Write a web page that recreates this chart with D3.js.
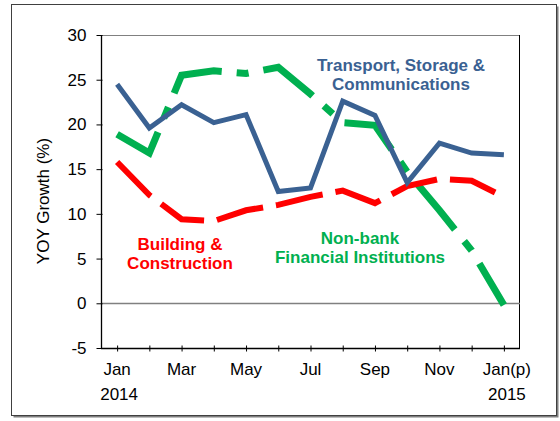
<!DOCTYPE html>
<html>
<head>
<meta charset="utf-8">
<script src="https://cdn.jsdelivr.net/npm/d3@7"></script>
<style>
  html, body { margin: 0; padding: 0; background: #fff; }
  svg { display: block; font-family: "Liberation Sans", Arial, sans-serif; }
</style>
</head>
<body>
<div id="chart"></div>
<script>
// months Jan 2014 .. Jan 2015 (p)
var months = ["Jan", "Feb", "Mar", "Apr", "May", "Jun", "Jul", "Aug", "Sep", "Oct", "Nov", "Dec", "Jan(p)"];
var monthLabels = ["Jan", "", "Mar", "", "May", "", "Jul", "", "Sep", "", "Nov", "", "Jan(p)"];
var yearLabels = ["2014", "", "", "", "", "", "", "", "", "", "", "", "2015"];
var yTicks = [-5, 0, 5, 10, 15, 20, 25, 30];

var transport = [24.5, 19.6, 22.2, 20.2, 21.1, 12.5, 12.9, 22.6, 21.0, 13.5, 17.9, 16.8, 16.6];
var building = [15.8, 12.1, 9.4, 9.2, 10.4, 11.0, 11.9, 12.6, 11.2, 13.1, 13.9, 13.7, 11.9];
var nonbank = [18.9, 16.8, 25.5, 26.0, 25.7, 26.4, 23.4, 20.2, 19.9, 14.7, 10.4, 5.9, -0.2];

var width = 560, height = 421;
var plotLeft = 101, plotRight = 520, plotTop = 35, plotBottom = 348;

var svg = d3.select("#chart").append("svg")
  .attr("width", width)
  .attr("height", height);

// outer frame with shadow
svg.append("rect")
  .attr("x", 13.5).attr("y", 6.5).attr("width", 545).attr("height", 411)
  .attr("fill", "#7f7f7f");
svg.append("rect")
  .attr("x", 11.5).attr("y", 4.5).attr("width", 545).attr("height", 411)
  .attr("fill", "#fff").attr("stroke", "#404040").attr("stroke-width", 1);

var x = d3.scalePoint().domain(d3.range(months.length)).range([plotLeft, plotRight]).padding(0.5);
var y = d3.scaleLinear().domain([-5, 30]).range([plotBottom, plotTop]);

// plot border: top gray, right black
svg.append("line")
  .attr("x1", plotLeft).attr("x2", plotRight).attr("y1", y(30) + 0.5).attr("y2", y(30) + 0.5)
  .attr("stroke", "#808080").attr("stroke-width", 1);
svg.append("line")
  .attr("x1", plotRight - 0.5).attr("x2", plotRight - 0.5).attr("y1", y(30)).attr("y2", plotBottom)
  .attr("stroke", "#000").attr("stroke-width", 1);

// zero line
svg.append("line")
  .attr("x1", plotLeft).attr("x2", plotRight).attr("y1", Math.round(y(0)) + 0.5).attr("y2", Math.round(y(0)) + 0.5)
  .attr("stroke", "#808080").attr("stroke-width", 1.3);

// y axis (plain hyphen for negatives, like the original)
var yAxis = d3.axisLeft(y).tickValues(yTicks).tickSize(5).tickPadding(10)
  .tickFormat(function(d) { return String(d); });
var gy = svg.append("g")
  .attr("transform", "translate(" + (plotLeft + 0.5) + ",0)")
  .call(yAxis);
gy.select(".domain").attr("stroke", "#000").attr("stroke-width", 1.3).attr("d", "M0," + plotTop + "V" + plotBottom);
gy.selectAll(".tick line").attr("stroke", "#000").attr("x1", 1);
gy.selectAll(".tick text")
  .attr("font-size", 17).attr("fill", "#000")
  .attr("font-family", "Liberation Sans, Arial, sans-serif");

// x axis
var xAxis = d3.axisBottom(x).tickSize(3).tickFormat("");
var gx = svg.append("g")
  .attr("transform", "translate(0," + (plotBottom + 0.5) + ")")
  .call(xAxis);
gx.select(".domain").attr("stroke", "#000").attr("stroke-width", 1.3).attr("d", "M" + plotLeft + ",0H" + plotRight);
gx.selectAll(".tick line").attr("stroke", "#000").attr("y1", -3).attr("y2", 3);

svg.append("g").selectAll("text")
  .data(monthLabels)
  .join("text")
  .attr("x", function(d, i) { return x(i) + (i === 12 ? 3 : 0); })
  .attr("y", 375)
  .attr("text-anchor", "middle")
  .attr("font-size", 17)
  .attr("fill", "#000")
  .text(function(d) { return d; });

svg.append("g").selectAll("text")
  .data(yearLabels)
  .join("text")
  .attr("x", function(d, i) { return x(i) + (i === 12 ? 3 : 2); })
  .attr("y", 400)
  .attr("text-anchor", "middle")
  .attr("font-size", 17)
  .attr("fill", "#000")
  .text(function(d) { return d; });

// y title
svg.append("text")
  .attr("transform", "translate(49,201) rotate(-90)")
  .attr("text-anchor", "middle")
  .attr("font-size", 17)
  .attr("fill", "#000")
  .text("YOY Growth (%)");

var line = d3.line()
  .x(function(d, i) { return x(i); })
  .y(function(d) { return y(d); });

svg.append("path")
  .datum(nonbank)
  .attr("d", line)
  .attr("fill", "none")
  .attr("stroke", "#00b050")
  .attr("stroke-width", 7)
  .attr("stroke-dasharray", "60,15,12,15");

svg.append("path")
  .datum(building)
  .attr("d", line)
  .attr("fill", "none")
  .attr("stroke", "#ff0000")
  .attr("stroke-width", 6)
  .attr("stroke-dasharray", "48,13");

svg.append("path")
  .datum(transport)
  .attr("d", line)
  .attr("fill", "none")
  .attr("stroke", "#3a6192")
  .attr("stroke-width", 5);

// series labels
function label(lines, cx, y0, color) {
  svg.append("g").selectAll("text")
    .data(lines)
    .join("text")
    .attr("x", cx)
    .attr("y", function(d, i) { return y0 + i * 19.5; })
    .attr("text-anchor", "middle")
    .attr("font-size", 17)
    .attr("font-weight", "bold")
    .attr("fill", color)
    .text(function(d) { return d; });
}
label(["Transport, Storage &", "Communications"], 401, 70.5, "#3a6192");
label(["Building &", "Construction"], 180, 249.5, "#ff0000");
label(["Non-bank", "Financial Institutions"], 360, 243.5, "#00b050");
</script>
</body>
</html>
